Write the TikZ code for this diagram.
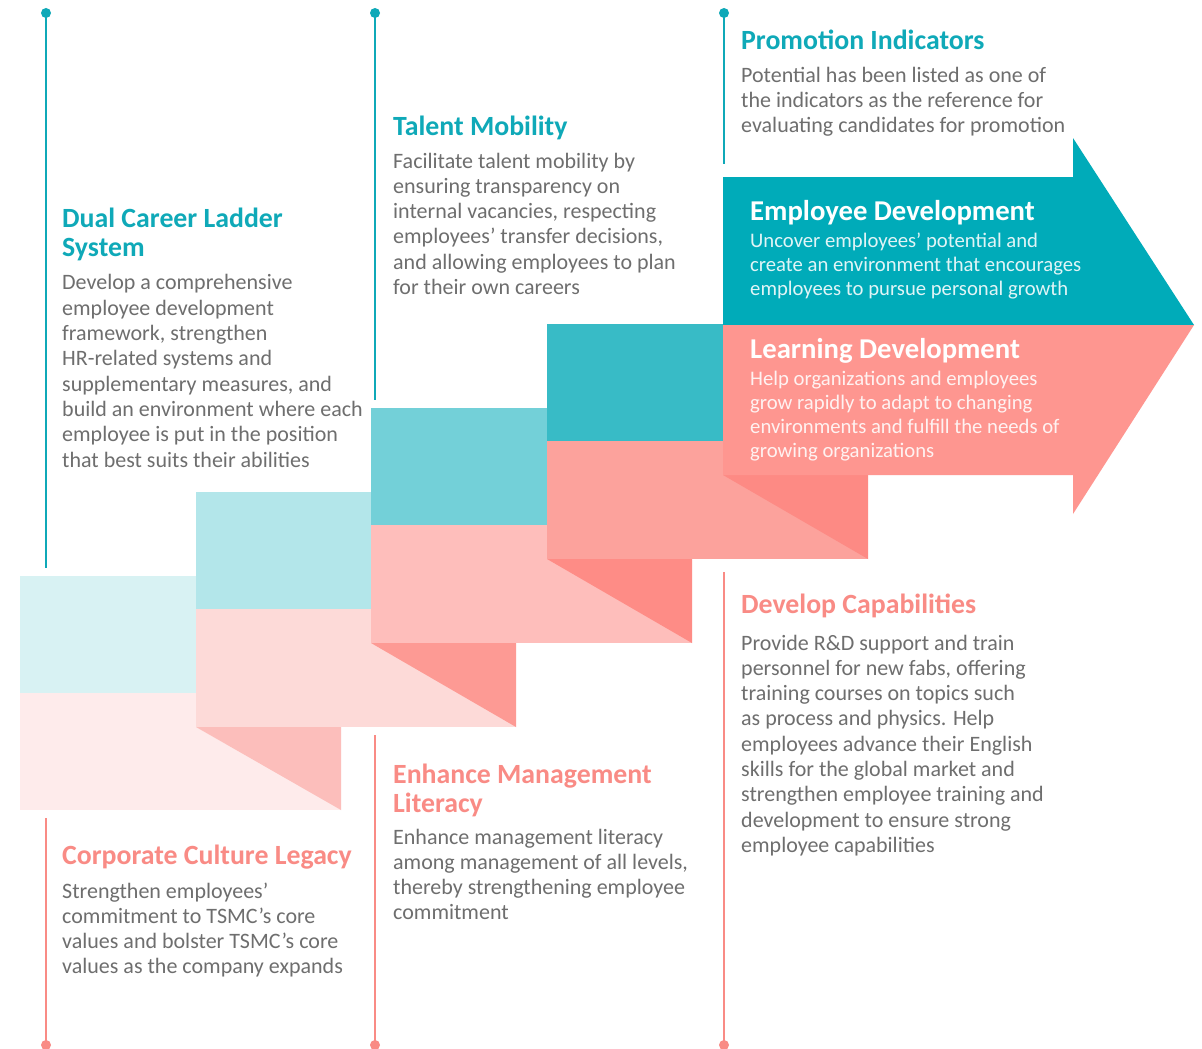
\documentclass[tikz,border=0pt]{standalone}
\usepackage{fontspec}
\setmainfont{Carlito}
\newcommand\myap{\char39\relax}
\definecolor{tealT}{HTML}{0FA9B8}
\definecolor{pinkT}{HTML}{F98B85}
\definecolor{bodyG}{HTML}{6E6E6E}
\definecolor{aT}{HTML}{D8F2F3}
\definecolor{aP}{HTML}{FEEBEB}
\definecolor{aF}{HTML}{FCBEBB}
\definecolor{bT}{HTML}{B3E6EA}
\definecolor{bP}{HTML}{FDDAD8}
\definecolor{bF}{HTML}{FD9A94}
\definecolor{cT}{HTML}{73D0D8}
\definecolor{cP}{HTML}{FEBEBB}
\definecolor{cF}{HTML}{FE8C86}
\definecolor{dT}{HTML}{38BBC6}
\definecolor{dP}{HTML}{FCA29C}
\definecolor{dF}{HTML}{FD8A84}
\definecolor{arT}{HTML}{00ABB9}
\definecolor{arP}{HTML}{FE9690}
% NOTE: multi-line nodes anchored at base = baseline of LAST line
\tikzset{
  body/.style={anchor=base west, inner sep=0pt, align=left, text=bodyG,
    font=\fontsize{22}{25.3}\selectfont},
  ttl/.style={anchor=base west, inner sep=0pt, align=left,
    font=\fontsize{27.8}{29}\selectfont\bfseries},
  tealttl/.style={ttl, text=tealT},
  pinkttl/.style={ttl, text=pinkT},
  wttl/.style={ttl, text=white, font=\fontsize{28.7}{29}\selectfont\bfseries},
  wbody/.style={anchor=base west, inner sep=0pt, align=left, text=white, text opacity=0.88,
    font=\fontsize{20.7}{24.1}\selectfont},
  tline/.style={draw=tealT, line width=1.6pt},
  pline/.style={draw=pinkT, line width=1.6pt},
}
\begin{document}
\begin{tikzpicture}[x=1pt,y=-1pt]
\useasboundingbox[fill=white] (0,0) rectangle (1202,1049);
% step 1
\fill[aT] (20,576) rectangle (196,693);
\fill[aP] (20,693) rectangle (341,810);
\fill[aF] (196,727) -- (341,727) -- (341,810) -- cycle;
% step 2
\fill[bT] (196,492) rectangle (371,609);
\fill[bP] (196,609) rectangle (516,727);
\fill[bF] (371,643) -- (516,643) -- (516,727) -- cycle;
% step 3
\fill[cT] (371,408) rectangle (547,525);
\fill[cP] (371,525) rectangle (692,643);
\fill[cF] (547,559) -- (692,559) -- (692,643) -- cycle;
% step 4
\fill[dT] (547,324) rectangle (723,441);
\fill[dP] (547,441) rectangle (868,559);
\fill[dF] (723,475) -- (868,475) -- (868,559) -- cycle;
% arrow
\fill[arT] (723,177) -- (1073,177) -- (1073,138) -- (1194,325) -- (723,325) -- cycle;
\fill[arP] (723,325) -- (1194,325) -- (1073,514) -- (1073,475) -- (723,475) -- cycle;

% vertical lines
\coordinate (t1a) at (46,13);  \coordinate (t1b) at (46,568);
\coordinate (t2a) at (375,13); \coordinate (t2b) at (375,400);
\coordinate (t3a) at (724,13); \coordinate (t3b) at (724,164);
\coordinate (p1a) at (46,818);  \coordinate (p1b) at (46,1045);
\coordinate (p2a) at (375,735); \coordinate (p2b) at (375,1045);
\coordinate (p3a) at (724,572); \coordinate (p3b) at (724,1045);
\draw[tline] (t1a) -- (t1b);
\draw[tline] (t2a) -- (t2b);
\draw[tline] (t3a) -- (t3b);
\draw[pline] (p1a) -- (p1b);
\draw[pline] (p2a) -- (p2b);
\draw[pline] (p3a) -- (p3b);
\fill[tealT] (t1a) circle (5);
\fill[tealT] (t2a) circle (5);
\fill[tealT] (t3a) circle (5);
\fill[pinkT] (p1b) circle (5);
\fill[pinkT] (p2b) circle (5);
\fill[pinkT] (p3b) circle (5);

% texts (positions = baseline of last line)
\node[tealttl] (dclT) at (62,256) {Dual Career Ladder\\System};
\node[body] (dclB) at (62,467) {Develop a comprehensive\\employee development\\framework, strengthen\\HR-related systems and\\supplementary measures, and\\build an environment where each\\employee is put in the position\\that best suits their abilities};

\node[tealttl] (tmT) at (393,135) {Talent Mobility};
\node[body] (tmB) at (393,294.5) {Facilitate talent mobility by\\ensuring transparency on\\internal vacancies, respecting\\employees\myap{} transfer decisions,\\and allowing employees to plan\\for their own careers};

\node[tealttl] (piT) at (741,49) {Promotion Indicators};
\node[body] (piB) at (741,132.6) {Potential has been listed as one of\\the indicators as the reference for\\evaluating candidates for promotion};

\node[wttl] (edT) at (750,220) {Employee Development};
\node[wbody] (edB) at (750,295.2) {Uncover employees\myap{} potential and\\create an environment that encourages\\employees to pursue personal growth};

\node[wttl] (ldT) at (750,358) {Learning Development};
\node[wbody] (ldB) at (750,457.3) {Help organizations and employees\\grow rapidly to adapt to changing\\environments and fulfill the needs of\\growing organizations};

\node[pinkttl] (dcT) at (741,613) {Develop Capabilities};
\node[body] (dcB) at (741,852.4) {Provide R\&D support and train\\personnel for new fabs, offering\\training courses on topics such\\as process and physics. Help\\employees advance their English\\skills for the global market and\\strengthen employee training and\\development to ensure strong\\employee capabilities};

\node[pinkttl] (emT) at (393,812) {Enhance Management\\Literacy};
\node[body] (emB) at (393,919.9) {Enhance management literacy\\among management of all levels,\\thereby strengthening employee\\commitment};

\node[pinkttl] (ccT) at (62,864) {Corporate Culture Legacy};
\node[body] (ccB) at (62,973.9) {Strengthen employees\myap\\commitment to TSMC\myap{}s core\\values and bolster TSMC\myap{}s core\\values as the company expands};
\end{tikzpicture}
\end{document}
